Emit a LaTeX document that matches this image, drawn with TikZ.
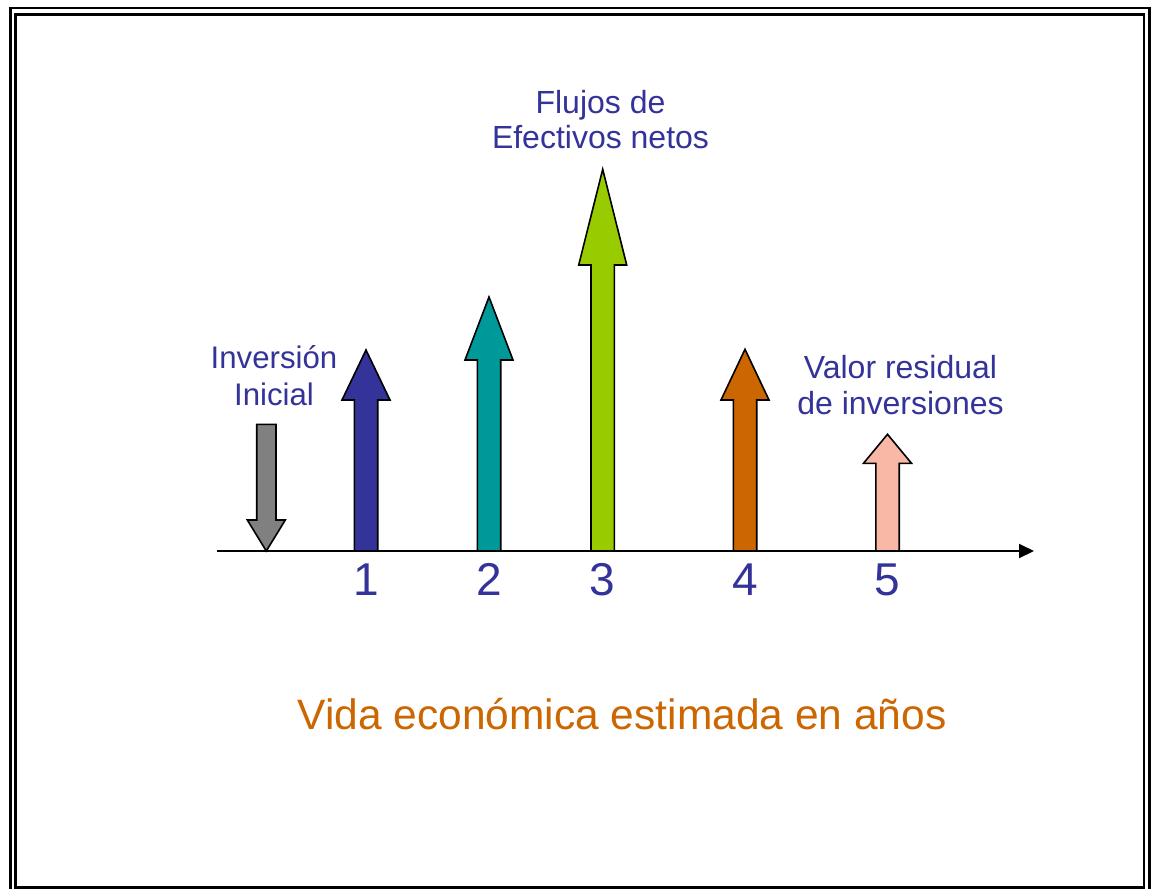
\documentclass[tikz,border=0pt]{standalone}
\usepackage{fontspec}
\setmainfont{Liberation Sans}
\usetikzlibrary{arrows.meta}
\definecolor{txtblue}{HTML}{333399}
\definecolor{cblue}{HTML}{333399}
\definecolor{cteal}{HTML}{009999}
\definecolor{cgreen}{HTML}{99CC00}
\definecolor{corange}{HTML}{CC6600}
\definecolor{cpink}{HTML}{F9B8A6}
\definecolor{cgray}{HTML}{808080}
\newcommand{\cfarrow}[5]{% center x, tip y, head base y, fill, name
  \draw[flowshape, fill=#4] (#1-11.7,551) -- (#1-11.7,#3) -- (#1-24,#3) -- (#1,#2)
    -- (#1+24,#3) -- (#1+11.7,#3) -- (#1+11.7,551);
  \coordinate (#5) at (#1,#2);
}
\begin{document}
\begin{tikzpicture}[x=1pt,y=-1pt,
  flowshape/.style={draw=black, line width=1.6pt, line join=miter},
  bluetext/.style={text=txtblue, align=center, inner sep=0pt, anchor=base,
     font=\fontsize{31.5}{36.5}\selectfont},
  numtext/.style={text=txtblue, inner sep=0pt, anchor=base,
     font=\fontsize{46}{50}\selectfont},
  axisline/.style={draw=black, line width=2pt, -{Triangle[length=15pt,width=14pt]}}]
\useasboundingbox (0,0) rectangle (1152,889);
\clip (0,0) rectangle (1152,889);
\fill[white] (0,0) rectangle (1152,889);
% frame
\draw[line width=2.8pt] (10.3,8) rectangle (1149.6,900);
\draw[line width=2.6pt] (15.3,14.7) rectangle (1144,887.5);
% down arrow (initial investment)
\draw[flowshape, fill=cgray] (256.7,424.3) -- (276,424.3) -- (276,520) -- (285.3,520)
   -- (266.3,551) -- (247.3,520) -- (256.7,520) -- cycle;
\coordinate (a0) at (266.3,551);
% up arrows
\cfarrow{366}{350}{400}{cblue}{a1}
\cfarrow{489}{297}{360}{cteal}{a2}
\cfarrow{602.7}{169.3}{265}{cgreen}{a3}
\cfarrow{745}{349.3}{400}{corange}{a4}
\cfarrow{887.5}{434.3}{463.3}{cpink}{a5}
% axis
\coordinate (axs) at (217,551);
\coordinate (axe) at (1034,551);
\draw[axisline] (axs) -- (axe);
% numbers
\node[numtext] (n1) at (366,595) {1};
\node[numtext] (n2) at (489,595) {2};
\node[numtext] (n3) at (602.7,595) {3};
\node[numtext] (n4) at (745,595) {4};
\node[numtext] (n5) at (887.5,595) {5};
% labels (base anchor = baseline of last line)
\node[bluetext, font=\fontsize{31.2}{36.7}\selectfont] (inv) at (274,405) {Inversión\\Inicial};
\node[bluetext, font=\fontsize{32}{35}\selectfont] (flu) at (600.5,148.3) {Flujos de\\Efectivos netos};
\node[bluetext, font=\fontsize{32}{36}\selectfont] (val) at (900.5,414.3) {Valor residual\\de inversiones};
\node[text=corange, inner sep=0pt, anchor=base, font=\fontsize{42.5}{46}\selectfont] (vida) at (622,729) {Vida económica estimada en años};
\end{tikzpicture}
\end{document}
